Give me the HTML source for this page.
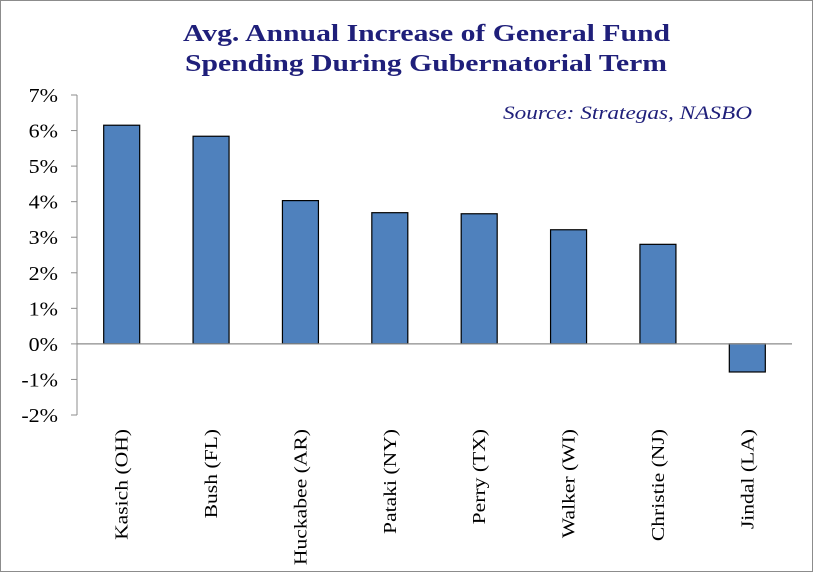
<!DOCTYPE html>
<html><head><meta charset="utf-8"><style>
body{margin:0;background:#fff}
svg{display:block;font-family:"Liberation Serif",serif}
</style></head><body>
<svg width="814" height="573">
<rect x="0.5" y="0.5" width="812" height="571" fill="#fff" stroke="#8c8c8c"/>
<text x="183" y="41" textLength="487" lengthAdjust="spacingAndGlyphs" font-size="24" font-weight="bold" fill="#1f1f7a">Avg. Annual Increase of General Fund</text>
<text x="185" y="71" textLength="482" lengthAdjust="spacingAndGlyphs" font-size="24" font-weight="bold" fill="#1f1f7a">Spending During Gubernatorial Term</text>
<text x="503" y="119" textLength="249" lengthAdjust="spacingAndGlyphs" font-size="19" font-style="italic" fill="#1f1f7a">Source: Strategas, NASBO</text>
<g id="plot"></g>
</svg>
<script>
const categories=["Kasich (OH)","Bush (FL)","Huckabee (AR)","Pataki (NY)","Perry (TX)","Walker (WI)","Christie (NJ)","Jindal (LA)"];
const values=[6.15,5.84,4.03,3.69,3.66,3.21,2.80,-0.79];
const ticks=[7,6,5,4,3,2,1,0,-1,-2];
const tickLabels=["7%","6%","5%","4%","3%","2%","1%","0%","-1%","-2%"];
const NS="http://www.w3.org/2000/svg";
const g=document.getElementById('plot');
const x0=77,x1=792,yTop=95,yBot=415,vMax=7,vMin=-2;
const band=(x1-x0)/categories.length;
function y(v){return yTop+(vMax-v)/(vMax-vMin)*(yBot-yTop);}
function xc(i){return x0+band*(i+0.5);}
function mk(t,a){const e=document.createElementNS(NS,t);for(const k in a)e.setAttribute(k,a[k]);g.appendChild(e);return e;}
let ax=mk('line',{x1:x0,y1:yTop,x2:x0,y2:yBot,stroke:'#8c8c8c','stroke-width':1});


ticks.forEach((t,i)=>{
 let l=mk('line',{x1:x0-6,y1:y(t),x2:x0,y2:y(t),stroke:'#8c8c8c'});
 
 
 let tx=mk('text',{transform:`translate(${x0-19},${y(t)+7}) scale(1.1,1)`,'text-anchor':'end','font-size':20,fill:'#000'});
 tx.textContent=tickLabels[i];
 
 
});
const bw=36;
values.forEach((v,i)=>{
 const top=Math.min(y(v),y(0)),h=Math.abs(y(v)-y(0));
 let r=mk('rect',{x:xc(i)-bw/2,y:top,width:bw,height:h,fill:'#4f81bd',stroke:'#000','stroke-width':1.2});
 
 
 let tx=mk('text',{transform:`translate(${xc(i)+6},${y(-2)+14}) rotate(-90) scale(1.2,1)`,'text-anchor':'end','font-size':18,fill:'#000'});
 tx.textContent=categories[i];
 
 
});
let zl=mk('line',{x1:x0,y1:y(0),x2:x1,y2:y(0),stroke:'#8c8c8c','stroke-width':1.2});


</script>
</body></html>
